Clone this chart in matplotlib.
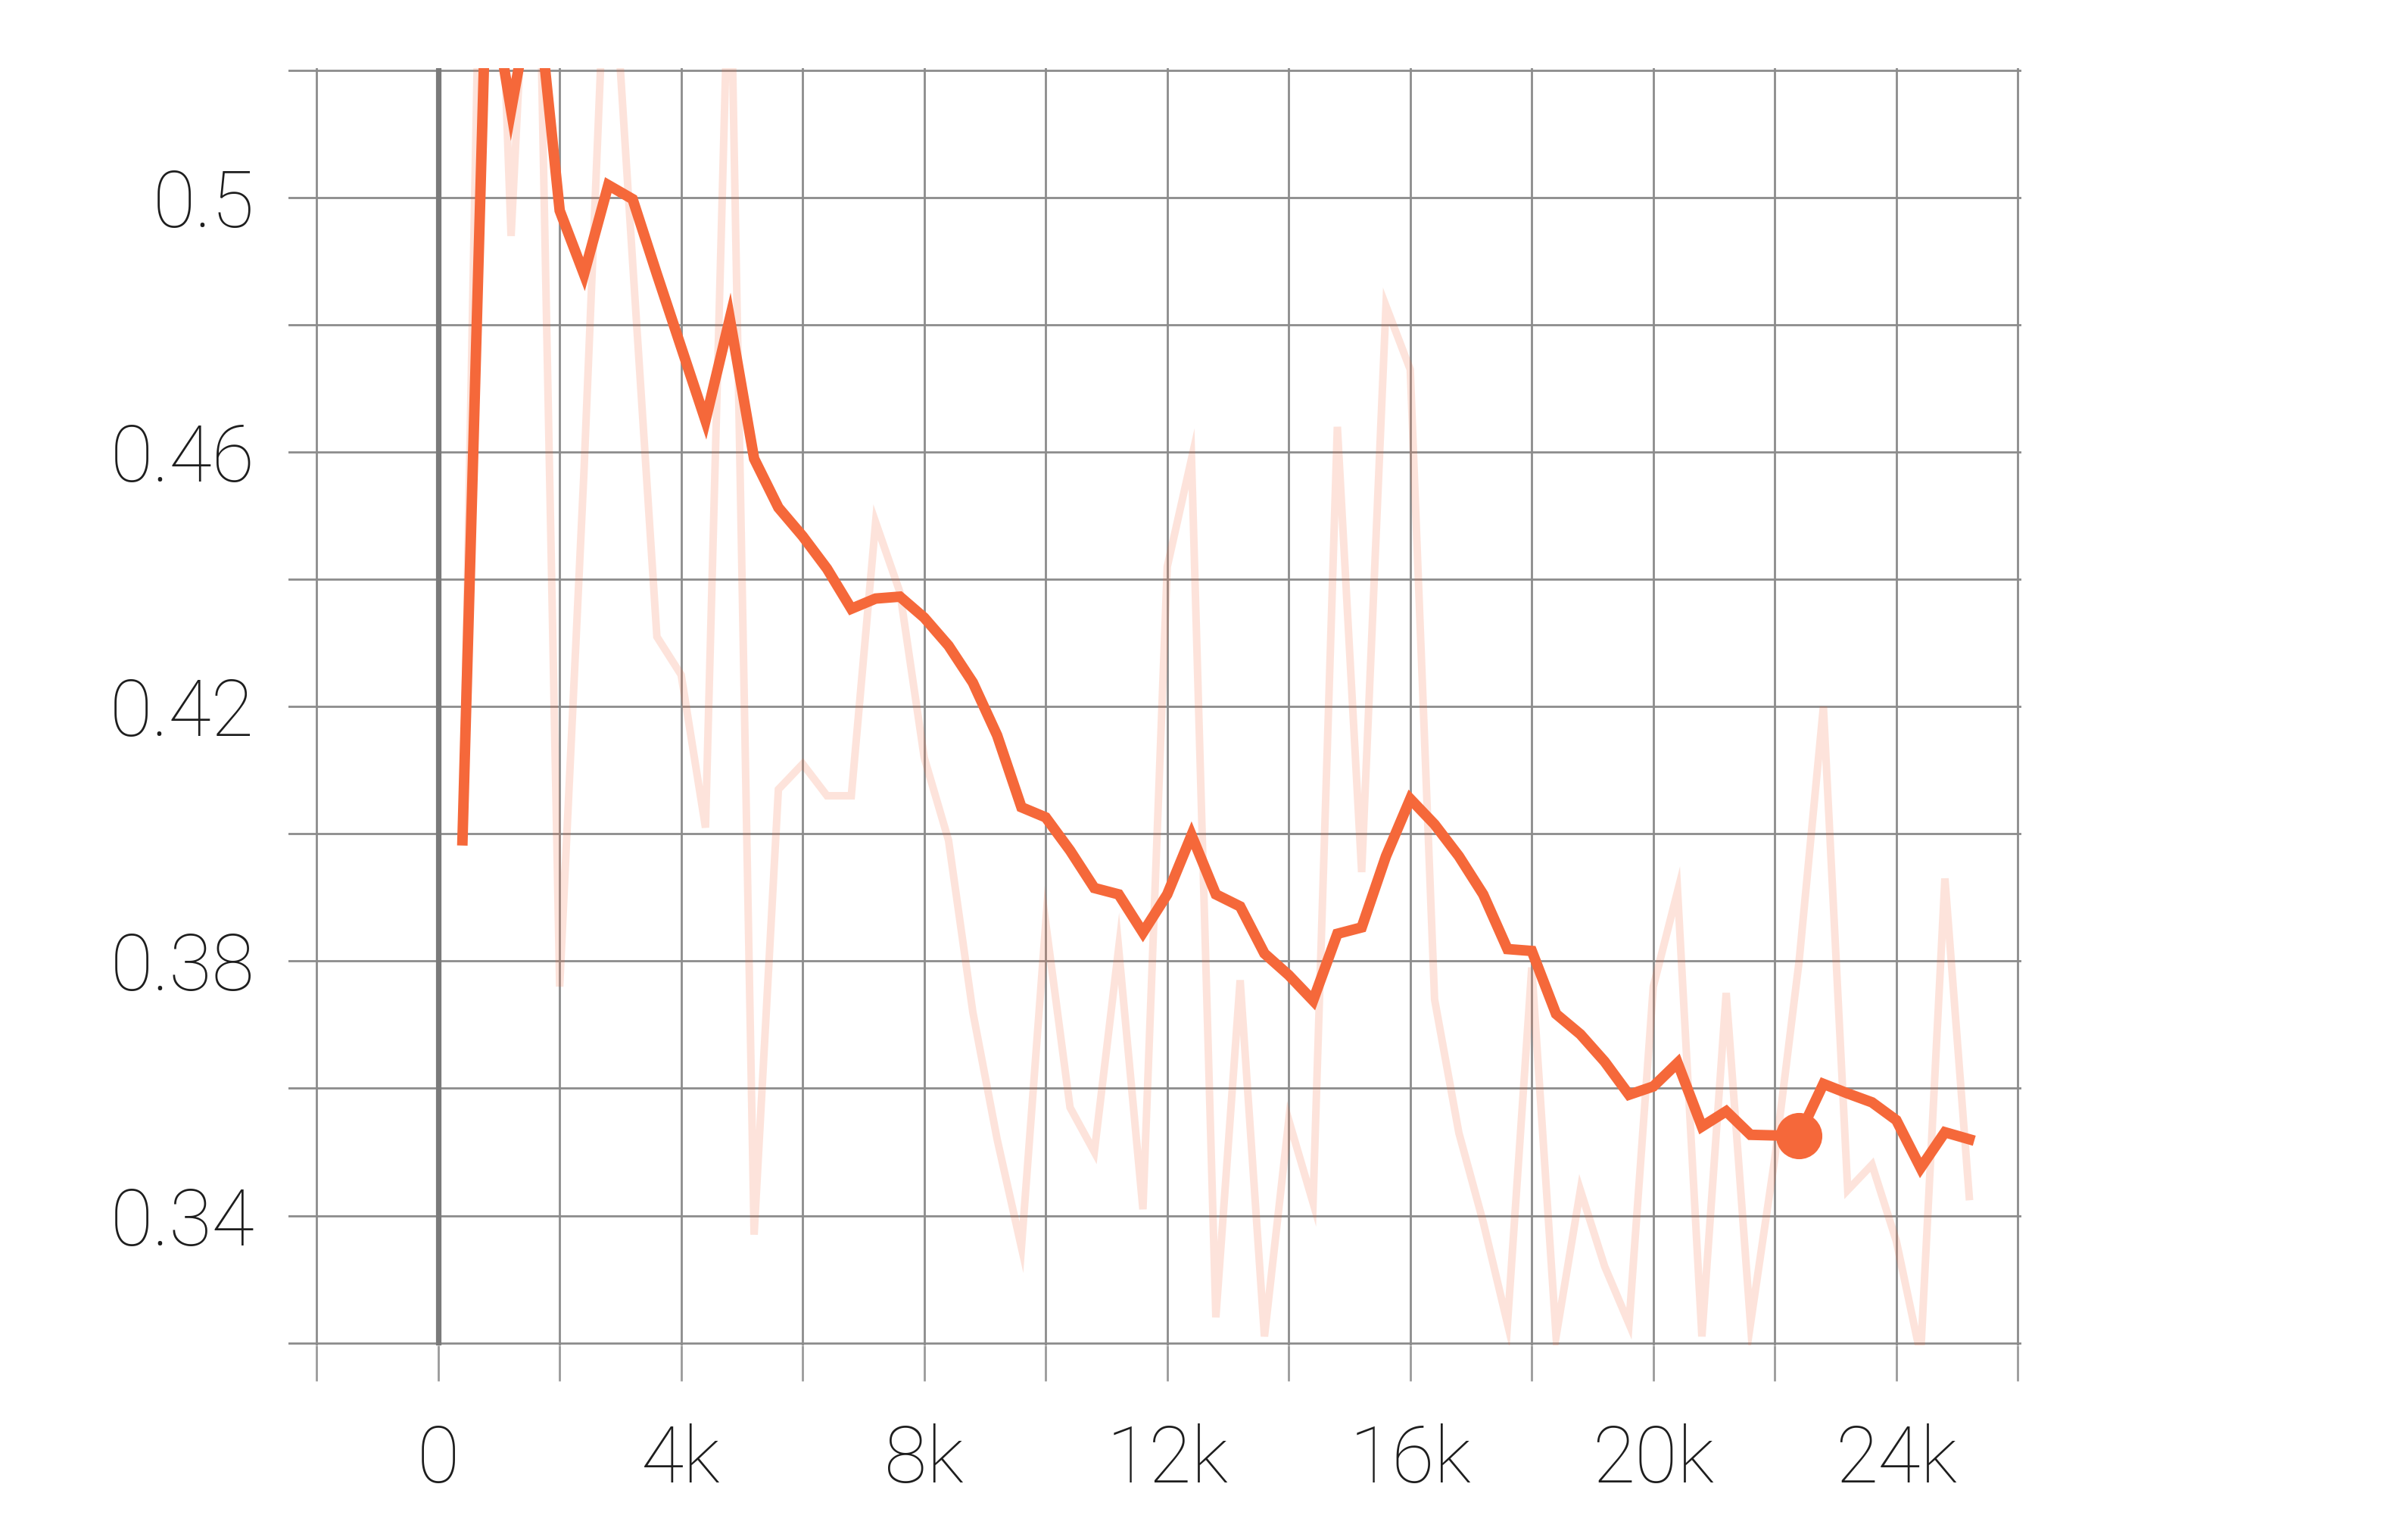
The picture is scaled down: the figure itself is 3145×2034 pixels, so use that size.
import matplotlib.pyplot as plt
import matplotlib.ticker as mticker

# training steps (every 400)
steps = [400, 800, 1200, 1600, 2000, 2400, 2800, 3200, 3600, 4000,
         4400, 4800, 5200, 5600, 6000, 6400, 6800, 7200, 7600, 8000,
         8400, 8800, 9200, 9600, 10000, 10400, 10800, 11200, 11600, 12000,
         12400, 12800, 13200, 13600, 14000, 14400, 14800, 15200, 15600, 16000,
         16400, 16800, 17200, 17600, 18000, 18400, 18800, 19200, 19600, 20000,
         20400, 20800, 21200, 21600, 22000, 22400, 22800, 23200, 23600, 24000,
         24400, 24800, 25200]

# raw (faint) values
raw = [0.399, 0.600, 0.494, 0.570, 0.376, 0.457, 0.550, 0.490, 0.431, 0.425,
       0.401, 0.545, 0.337, 0.407, 0.411, 0.406, 0.406, 0.449, 0.438, 0.412,
       0.399, 0.372, 0.352, 0.335, 0.386, 0.357, 0.350, 0.382, 0.341, 0.442,
       0.459, 0.324, 0.377, 0.321, 0.355, 0.342, 0.464, 0.394, 0.483, 0.473,
       0.374, 0.353, 0.339, 0.323, 0.379, 0.321, 0.344, 0.332, 0.323, 0.376,
       0.391, 0.321, 0.375, 0.323, 0.349, 0.380, 0.420, 0.344, 0.348, 0.336,
       0.318, 0.393, 0.343]

# smoothed values
smooth = [0.399, 0.537, 0.5138, 0.535, 0.498, 0.488, 0.502, 0.4998, 0.488, 0.4765,
          0.465, 0.481, 0.459, 0.4513, 0.4468, 0.4417, 0.4354, 0.437, 0.4373, 0.434,
          0.4296, 0.4238, 0.4155, 0.4042, 0.4026, 0.3974, 0.3915, 0.3905, 0.3845, 0.3905,
          0.3998, 0.3905, 0.3886, 0.3812, 0.3778, 0.3738, 0.3843, 0.3853, 0.3965, 0.4055,
          0.4015, 0.3965, 0.3905, 0.3819, 0.3816, 0.3717, 0.3685, 0.3642, 0.3590, 0.3603,
          0.3640, 0.3540, 0.3564, 0.3527, 0.3526, 0.3526, 0.3607, 0.3592, 0.3578, 0.3550,
          0.3475, 0.3531, 0.3520]

marker_step = 22400

plt.rcParams['font.family'] = ['Roboto', 'DejaVu Sans']
plt.rcParams['font.weight'] = 'light'

fig = plt.figure(figsize=(15.725, 10.17), dpi=200)
ax = fig.add_axes([0.121, 0.1264, 0.728, 0.8294])

orange = '#f5683a'
ax.plot(steps, raw, color=orange, alpha=0.18, lw=3.6, zorder=2, solid_joinstyle='miter')
ax.plot(steps, smooth, color=orange, lw=5.0, zorder=3, solid_joinstyle='miter')
i = steps.index(marker_step)
ax.plot(steps[i], smooth[i], 'o', color=orange, ms=21, zorder=4)

# darker line at x = 0
ax.axvline(0, color='#7a7a7a', lw=2.6, zorder=1.5)

ax.set_xlim(-2470, 26060)
ax.set_ylim(0.3196, 0.5204)

ax.xaxis.set_major_locator(mticker.MultipleLocator(2000))
ax.yaxis.set_major_locator(mticker.MultipleLocator(0.02))

def xfmt(v, pos):
    if v < 0 or round(v) % 4000 != 0:
        return ''
    return '0' if v == 0 else '%dk' % round(v / 1000)

def yfmt(v, pos):
    k = round(v * 100)
    if (k - 34) % 4 != 0:
        return ''
    return ('%g' % round(v, 2))

ax.xaxis.set_major_formatter(mticker.FuncFormatter(xfmt))
ax.yaxis.set_major_formatter(mticker.FuncFormatter(yfmt))

ax.grid(True, color='#8c8c8c', lw=1.0, zorder=1)
ax.set_axisbelow(True)
for s in ax.spines.values():
    s.set_visible(False)

ax.tick_params(axis='x', length=17, width=1.0, color='#9a9a9a', pad=20,
               labelsize=37, labelcolor='#1e1e1e')
ax.tick_params(axis='y', length=0, pad=16, labelsize=37, labelcolor='#1e1e1e')

fig.savefig('out.png', dpi=200, facecolor='white')
